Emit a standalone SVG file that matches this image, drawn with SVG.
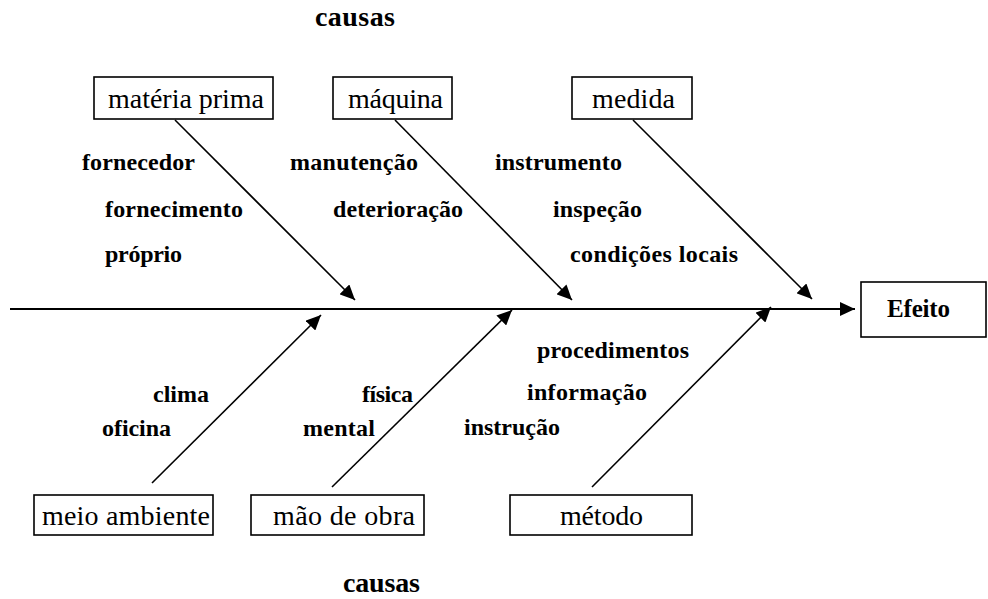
<svg xmlns="http://www.w3.org/2000/svg" width="988" height="599" viewBox="0 0 988 599">
  <style>
    .box { fill: #fff; stroke: #000; stroke-width: 1.6; }
    .bl { font-family: "Liberation Serif", "Times New Roman", serif; font-size: 28px; fill: #000; }
    .lb { font-family: "Liberation Serif", "Times New Roman", serif; font-size: 24px; font-weight: bold; fill: #000; }
    .hd { font-family: "Liberation Serif", "Times New Roman", serif; font-size: 28px; font-weight: bold; fill: #000; }
    .ef { font-family: "Liberation Serif", "Times New Roman", serif; font-size: 25px; font-weight: bold; fill: #000; }
    .ln { stroke: #000; stroke-width: 1.6; fill: none; marker-end: url(#ah); }
    .sp { stroke: #000; stroke-width: 2; fill: none; marker-end: url(#ah); }
  </style>
  <defs>
    <marker id="ah" markerUnits="userSpaceOnUse" markerWidth="16" markerHeight="14" refX="15" refY="7" orient="auto">
      <path d="M0,0 L15,7 L0,14 z" fill="#000"/>
    </marker>
  </defs>
  <rect width="988" height="599" fill="#fff"/>

  <g id="connectors">
    <line class="sp" x1="10" y1="309" x2="855" y2="309"/>
    <line class="ln" x1="175" y1="120" x2="355" y2="300"/>
    <line class="ln" x1="395" y1="120" x2="572" y2="300"/>
    <line class="ln" x1="633" y1="120" x2="812" y2="299"/>
    <line class="ln" x1="152" y1="483" x2="321" y2="315"/>
    <line class="ln" x1="332" y1="487" x2="512" y2="310"/>
    <line class="ln" x1="592" y1="487" x2="771" y2="307"/>
  </g>

  <g id="titulo-causas-top"><text class="hd" x="315" y="26" textLength="80" lengthAdjust="spacing">causas</text></g>
  <g id="titulo-causas-bottom"><text class="hd" x="343" y="592" textLength="77" lengthAdjust="spacing">causas</text></g>

  <g id="materia-prima">
    <rect class="box" x="94" y="77" width="179" height="42"/>
    <text class="bl" x="108" y="108" textLength="156" lengthAdjust="spacing">matéria prima</text>
    <text class="lb" x="82" y="170" textLength="113" lengthAdjust="spacing">fornecedor</text>
    <text class="lb" x="105" y="217" textLength="138" lengthAdjust="spacing">fornecimento</text>
    <text class="lb" x="105" y="262" textLength="77" lengthAdjust="spacing">próprio</text>
  </g>

  <g id="maquina">
    <rect class="box" x="333" y="77" width="119" height="42"/>
    <text class="bl" x="348" y="108" textLength="95" lengthAdjust="spacing">máquina</text>
    <text class="lb" x="290" y="170" textLength="128" lengthAdjust="spacing">manutenção</text>
    <text class="lb" x="333" y="217" textLength="130" lengthAdjust="spacing">deterioração</text>
  </g>

  <g id="medida">
    <rect class="box" x="572" y="77" width="120" height="42"/>
    <text class="bl" x="592" y="108" textLength="83" lengthAdjust="spacing">medida</text>
    <text class="lb" x="495" y="170" textLength="127" lengthAdjust="spacing">instrumento</text>
    <text class="lb" x="553" y="217" textLength="89" lengthAdjust="spacing">inspeção</text>
    <text class="lb" x="570" y="262" textLength="168" lengthAdjust="spacing">condições locais</text>
  </g>

  <g id="meio-ambiente">
    <rect class="box" x="34" y="495" width="179" height="40"/>
    <text class="bl" x="42" y="525" textLength="168" lengthAdjust="spacing">meio ambiente</text>
    <text class="lb" x="153" y="402" textLength="56" lengthAdjust="spacing">clima</text>
    <text class="lb" x="102" y="436" textLength="69" lengthAdjust="spacing">oficina</text>
  </g>

  <g id="mao-de-obra">
    <rect class="box" x="251" y="495" width="173" height="40"/>
    <text class="bl" x="273" y="525" textLength="142" lengthAdjust="spacing">mão de obra</text>
    <text class="lb" x="362" y="402" textLength="51" lengthAdjust="spacing">física</text>
    <text class="lb" x="303" y="436" textLength="72" lengthAdjust="spacing">mental</text>
  </g>

  <g id="metodo">
    <rect class="box" x="510" y="495" width="182" height="40"/>
    <text class="bl" x="560" y="525" textLength="83" lengthAdjust="spacing">método</text>
    <text class="lb" x="537" y="358" textLength="152" lengthAdjust="spacing">procedimentos</text>
    <text class="lb" x="527" y="400" textLength="120" lengthAdjust="spacing">informação</text>
    <text class="lb" x="464" y="435" textLength="96" lengthAdjust="spacing">instrução</text>
  </g>

  <g id="efeito">
    <rect class="box" x="861" y="282" width="125" height="55"/>
    <text class="ef" x="887" y="317" textLength="63" lengthAdjust="spacing">Efeito</text>
  </g>
</svg>
